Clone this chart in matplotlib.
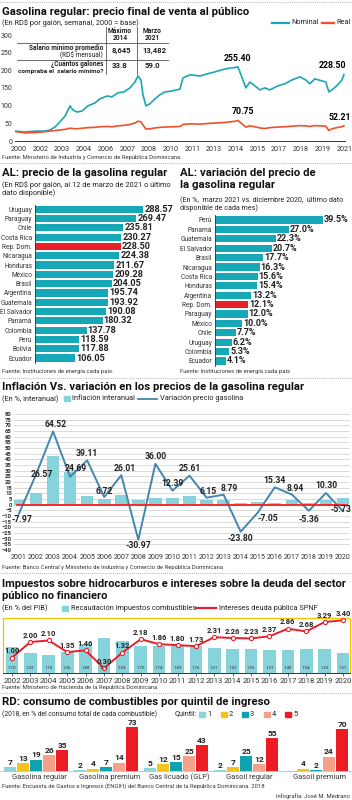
import numpy as np
import matplotlib.pyplot as plt
from matplotlib.patches import Rectangle
from matplotlib.lines import Line2D

plt.rcParams['font.family'] = ['Liberation Sans Narrow', 'Roboto', 'DejaVu Sans']

# ---------------- datos ----------------
# Gasolina regular, precio semanal (lecturas aproximadas del grafico)
fechas = [2000.00, 2000.65, 2001.29, 2001.94, 2002.26, 2002.58, 2002.90, 2003.23, 2003.55, 2003.74,
          2004.00, 2004.32, 2004.71, 2005.16, 2005.48, 2005.94, 2006.26, 2006.65, 2007.03, 2007.42,
          2007.74, 2007.94, 2008.13, 2008.26, 2008.45, 2008.71, 2009.03, 2009.35, 2009.68, 2010.13,
          2010.65, 2010.84, 2011.29, 2011.94, 2012.39, 2012.90, 2013.35, 2013.74, 2014.19, 2014.39,
          2014.71, 2014.90, 2015.16, 2015.48, 2015.81, 2016.13, 2016.45, 2016.97, 2017.42, 2017.87,
          2018.39, 2018.77, 2019.03, 2019.35, 2019.81, 2020.06, 2020.26, 2020.45, 2020.77, 2021.10,
          2021.23]
nominal = [34, 31, 34, 34, 38, 48, 66, 86, 121, 107,
           100, 103, 121, 131, 145, 155, 152, 166, 169, 183,
           203, 224, 210, 159, 121, 128, 145, 159, 169, 172,
           179, 217, 228, 224, 231, 238, 245, 250, 253, 255.40,
           210, 183, 203, 190, 176, 183, 176, 190, 197, 210,
           221, 210, 197, 214, 207, 203, 169, 176, 190, 210,
           228.50]
real = [33, 28, 29, 32, 34, 36, 38, 40, 44, 43,
        42, 44, 46, 47, 49, 50, 49, 52, 54, 57,
        62, 68, 66, 55, 41, 42, 45, 47, 48, 49,
        50, 57, 59, 58, 60, 62, 63, 65, 68, 70.75,
        56, 48, 52, 49, 45, 43, 46, 48, 49, 51,
        53, 52, 50, 53, 52, 51, 36, 42, 46, 49,
        52.21]
anios_eje1 = ['2000', '2002', '2003', '2004', '2006', '2007', '2008', '2010', '2011',
              '2013', '2014', '2015', '2017', '2018', '2019', '2021']
marcas_eje1 = [0, 50, 100, 150, 200, 250, 300]

# AL: precio de la gasolina regular
paises_precio = ['Uruguay', 'Paraguay', 'Chile', 'Costa Rica', 'Rep. Dom.', 'Nicaragua', 'Honduras',
                 'México', 'Brasil', 'Argentina', 'Guatemala', 'El Salvador', 'Panamá', 'Colombia',
                 'Perú', 'Bolivia', 'Ecuador']
precio = [288.57, 269.47, 235.81, 230.27, 228.50, 224.38, 211.67, 209.28, 204.05, 195.74,
          193.92, 190.08, 180.32, 137.78, 118.59, 117.88, 106.05]

# AL: variacion del precio
paises_var = ['Perú', 'Panamá', 'Guatemala', 'El Salvador', 'Brasil', 'Nicaragua', 'Costa Rica',
              'Honduras', 'Argentina', 'Rep. Dom.', 'Paraguay', 'México', 'Chile', 'Uruguay',
              'Colombia', 'Ecuador']
variacion = [39.5, 27.0, 22.3, 20.7, 17.7, 16.3, 15.6, 15.4, 13.2, 12.1, 12.0, 10.0, 7.7, 6.2, 5.3, 4.1]

# Inflacion vs. variacion precio gasolina
anios_inf = list(range(2001, 2021))
inflacion = [4.4, 10.5, 42.7, 28.7, 7.4, 5.0, 8.9, 4.5, 5.8, 6.2,
             7.8, 3.9, 3.9, 1.6, 2.3, 1.7, 4.2, 1.2, 3.7, 5.6]
var_gasolina = [-7.97, 26.57, 64.52, 24.69, 39.11, 6.72, 26.01, -30.97, 36.00, 12.39,
                25.61, 6.15, 8.79, -23.80, -7.05, 15.34, 8.94, -5.36, 10.30, -5.73]

# Impuestos e intereses (% del PIB)
anios_imp = list(range(2002, 2021))
recaudacion = [1.70, 1.32, 1.18, 1.36, 1.88, 2.26, 2.04, 1.75, 1.74, 1.83,
               1.76, 1.61, 1.52, 1.55, 1.51, 1.48, 1.54, 1.53, 1.27]
intereses = [1.00, 2.00, 2.10, 1.35, 1.46, 0.30, 1.32, 2.18, 1.86, 1.80,
             1.73, 2.31, 2.26, 2.23, 2.37, 2.86, 2.68, 3.29, 3.40]

# Consumo por quintil
combustibles = ['Gasolina regular', 'Gasolina premium', 'Gas licuado (GLP)', 'Gasoil regular', 'Gasoil premium']
quintil1 = [7, 2, 5, 2, 0]
quintil2 = [13, 4, 12, 7, 4]
quintil3 = [19, 7, 15, 25, 2]
quintil4 = [26, 14, 25, 12, 24]
quintil5 = [35, 73, 43, 55, 70]

# ---------------- estilo ----------------
TEAL = '#1ba6b4'
NARANJA = '#f0502a'
BARRA = '#17a8b7'
ROJO = '#e8202a'
CELESTE = '#86d3dc'
AZUL = '#4486ad'
AMARILLO = '#f2c200'
OSCURO = '#222222'
COLORES_Q = ['#8dd5de', '#f6c31c', '#0fa3b1', '#f5a089', '#ec1c24']
T_TIT = 8.2
T_SUB = 5.3

W, H = 352, 800
fig = plt.figure(figsize=(W / 100, H / 100), dpi=100)


def ejes(l, t, r, b):
    return fig.add_axes([l / W, 1 - b / H, (r - l) / W, (b - t) / H])


def texto(x, y, s, **kw):
    kw.setdefault('va', 'center')
    kw.setdefault('color', OSCURO)
    return fig.text(x / W, 1 - y / H, s, **kw)


def linea(x0, x1, y0, y1=None, **kw):
    y1 = y0 if y1 is None else y1
    fig.add_artist(Line2D([x0 / W, x1 / W], [1 - y0 / H, 1 - y1 / H], **kw))


def caja(x, y, w, h, color):
    fig.add_artist(Rectangle((x / W, 1 - (y + h / 2) / H), w / W, h / H,
                             color=color, transform=fig.transFigure))


def separador(y):
    linea(0, W, y, color='#999999', lw=0.6, ls=(0, (1, 1.5)))


def titulo(x, y, s, size=T_TIT):
    texto(x, y, s, fontsize=size, fontweight='bold', color='#111111')


def fuente(x, y, s):
    texto(x, y, s, fontsize=4.2, color='#333333')


def limpiar(ax):
    for s in ax.spines.values():
        s.set_visible(False)


# ---------------- 1. precio final ----------------
separador(2)
titulo(2, 12, 'Gasolina regular: precio final de venta al público')
texto(2, 23, '(En RD$ por galón, semanal, 2000 = base)', fontsize=T_SUB)
linea(272, 289, 23, color=TEAL, lw=1.6)
texto(291, 23, 'Nominal', fontsize=T_SUB)
linea(322, 334, 23, color=NARANJA, lw=1.6)
texto(336, 23, 'Real', fontsize=T_SUB)

ax1 = ejes(15, 35, 345, 141)
ax1.plot(fechas, nominal, color=TEAL, lw=1.2)
ax1.plot(fechas, real, color=NARANJA, lw=1.2)
ax1.set_xlim(2000, 2021.3)
ax1.set_ylim(0, 365)
limpiar(ax1)
ax1.spines['bottom'].set_visible(True)
ax1.spines['bottom'].set_color('#333333')
ax1.spines['bottom'].set_linewidth(0.7)
# las etiquetas del eje van donde las pone el original
ax1.set_yticks(np.array(marcas_eje1) * 365 / 300)
ax1.set_yticklabels([str(m) for m in marcas_eje1])
ax1.set_xticks(np.linspace(2000.25, 2021.25, len(anios_eje1)))
ax1.set_xticklabels(anios_eje1)
ax1.tick_params(axis='y', length=0, labelsize=5.0, pad=2, colors='#333333')
ax1.tick_params(axis='x', length=0, labelsize=5.2, pad=3.5, colors='#333333')
ax1.set_facecolor('none')

i_max = int(np.argmax(nominal))
ax1.annotate(f'{nominal[i_max]:.2f}', (fechas[i_max], nominal[i_max]), xytext=(0, 3),
             textcoords='offset points', ha='center', va='bottom', fontsize=6.3, fontweight='bold')
ax1.annotate(f'{nominal[-1]:.2f}', (fechas[-1], nominal[-1]), xytext=(2, 3),
             textcoords='offset points', ha='right', va='bottom', fontsize=6.3, fontweight='bold')
j_max = int(np.argmax(real))
ax1.annotate(f'{real[j_max]:.2f}', (fechas[j_max], real[j_max]), xytext=(4, 3),
             textcoords='offset points', ha='center', va='bottom', fontsize=6.3, fontweight='bold')
ax1.annotate(f'{real[-1]:.2f}', (fechas[-1], real[-1]), xytext=(5, 3),
             textcoords='offset points', ha='right', va='bottom', fontsize=6.3, fontweight='bold')

# tabla de salario
texto(120, 31, 'Máximo', fontsize=4.8, fontweight='bold', ha='center')
texto(120, 38, '2014', fontsize=4.8, fontweight='bold', ha='center')
texto(152, 31, 'Marzo', fontsize=4.8, fontweight='bold', ha='center')
texto(152, 38, '2021', fontsize=4.8, fontweight='bold', ha='center')
linea(17, 168, 43, color='#555555', lw=0.6)
linea(17, 168, 60, color='#555555', lw=0.6)
linea(106, 106, 27, 74, color='#555555', lw=0.6)
linea(137, 137, 27, 74, color='#555555', lw=0.6)
texto(103, 48, 'Salario mínimo promedio', fontsize=4.7, fontweight='bold', ha='right')
texto(103, 55, '(RD$ mensual)', fontsize=4.7, ha='right')
texto(121, 51, '8,645', fontsize=5.6, fontweight='bold', ha='center')
texto(154, 51, '13,482', fontsize=5.6, fontweight='bold', ha='center')
texto(103, 64, '¿Cuántos galones', fontsize=4.7, fontweight='bold', ha='right')
texto(103, 71, 'compraba el  salario mínimo?', fontsize=4.6, fontweight='bold', ha='right')
texto(120, 65, '33.8', fontsize=5.6, fontweight='bold', ha='center')
texto(152, 65, '59.0', fontsize=5.6, fontweight='bold', ha='center')

fuente(2, 157, 'Fuente: Ministerio de Industria y Comercio de República Dominicana.')
separador(163)

# ---------------- 2. AL precio ----------------
titulo(2, 173, 'AL: precio de la gasolina regular')
texto(2, 185, '(En RD$ por galón, al 12 de marzo de 2021 o último', fontsize=T_SUB)
texto(2, 193, 'dato disponible)', fontsize=T_SUB)

ax2 = ejes(35, 204.6, 170, 362.7)
col2 = [ROJO if p == 'Rep. Dom.' else BARRA for p in paises_precio]
y2 = np.arange(len(paises_precio))
ax2.barh(y2, precio, height=0.78, color=col2)
ax2.set_xlim(0, 360)
ax2.set_ylim(len(paises_precio) - 0.5, -0.5)
limpiar(ax2)
ax2.spines['left'].set_visible(True)
ax2.spines['left'].set_color('#333333')
ax2.spines['left'].set_linewidth(0.6)
ax2.set_xticks([])
ax2.set_yticks(y2)
ax2.set_yticklabels(paises_precio)
ax2.tick_params(length=0, labelsize=4.7, pad=2, colors='#333333')
for yy, v in zip(y2, precio):
    ax2.text(v + 3, yy, f'{v:.2f}', va='center', ha='left', fontsize=6.6, fontweight='bold', color=OSCURO)
fuente(2, 371, 'Fuente: Instituciones de energía cada país.')

titulo(180, 173, 'AL: variación del precio de')
titulo(180, 185, 'la gasolina regular')
texto(180, 200, '(En %,  marzo 2021 vs. diciembre 2020,  último dato', fontsize=5.1)
texto(180, 208, 'disponible de cada mes)', fontsize=5.1)

ax3 = ejes(215, 215.3, 350, 365.7)
col3 = [ROJO if p == 'Rep. Dom.' else BARRA for p in paises_var]
y3 = np.arange(len(paises_var))
ax3.barh(y3, variacion, height=0.78, color=col3)
ax3.set_xlim(0, 49.4)
ax3.set_ylim(len(paises_var) - 0.5, -0.5)
limpiar(ax3)
ax3.spines['left'].set_visible(True)
ax3.spines['left'].set_color('#333333')
ax3.spines['left'].set_linewidth(0.6)
ax3.set_xticks([])
ax3.set_yticks(y3)
ax3.set_yticklabels(paises_var)
ax3.tick_params(length=0, labelsize=4.7, pad=2, colors='#333333')
for yy, v in zip(y3, variacion):
    ax3.text(v + 0.3, yy, f'{v:.1f}%', va='center', ha='left', fontsize=6.5, fontweight='bold', color=OSCURO)
fuente(180, 371, 'Fuente: Instituciones de energía cada país')
separador(378)

# ---------------- 3. inflacion ----------------
titulo(2, 387, 'Inflación Vs. variación en los precios de la gasolina regular')
texto(2, 399, '(En %, interanual)', fontsize=T_SUB)
caja(64, 399, 6, 5, CELESTE)
texto(72, 399, 'Inflación interanual', fontsize=T_SUB)
linea(138, 157, 399, color=AZUL, lw=1.3)
texto(160, 399, 'Variación precio gasolina', fontsize=T_SUB)

ax4 = ejes(14, 414, 350, 550)
ax4.bar(anios_inf, inflacion, width=0.74, color=CELESTE, zorder=2)
ax4.plot(anios_inf, var_gasolina, color=AZUL, lw=1.4, zorder=3)
ax4.axhline(0, xmin=0.01, xmax=0.99, color='#ff1a1a', lw=1.3, zorder=4)
ax4.set_xlim(2000.71, 2020.41)
ax4.set_ylim(-40, 80)
limpiar(ax4)
ax4.set_yticks(range(-40, 81, 5))
ax4.grid(axis='y', color='#d4d4d4', lw=0.6, zorder=0)
ax4.set_axisbelow(True)
ax4.set_xticks(anios_inf)
ax4.tick_params(axis='y', length=0, labelsize=4.2, pad=1.5, colors='#333333')
ax4.tick_params(axis='x', length=0, labelsize=5.1, pad=3, colors='#333333')
for lab in ax4.get_yticklabels():
    lab.set_fontweight('bold')
# desplazamiento de cada etiqueta (pixeles)
desplaz = [(3, -6), (6, 0), (3, 7), (6, 8), (0, 7), (0, 6), (4, 7), (0, -6), (0, 7), (0, 7),
           (0, 7), (2, 6), (6, 6), (0, -7), (10, -6), (0, 7), (3, 6), (0, -9), (0, 7), (-2, 2)]
for xx, v, (dx, dy) in zip(anios_inf, var_gasolina, desplaz):
    ax4.annotate(f'{v:.2f}', (xx, v), xytext=(dx * 0.72, dy * 0.72), textcoords='offset points',
                 ha='center', va='center', fontsize=6.2, fontweight='bold', color=OSCURO, zorder=5)
fuente(2, 567, 'Fuente: Banco Central y Ministerio de Industria y Comercio de República Dominicana')
separador(573)

# ---------------- 4. impuestos ----------------
titulo(2, 584, 'Impuestos sobre hidrocarburos e intereses sobre la deuda del sector', size=8.0)
titulo(2, 596, 'público no financiero', size=8.0)
texto(2, 608, '(En % del PIB)', fontsize=T_SUB)
caja(62, 608, 6, 5, CELESTE)
texto(71, 608, 'Recaudación impuestos combustibles', fontsize=T_SUB)
linea(196, 216, 608, color=ROJO, lw=1.6)
texto(219, 608, 'Intereses deuda pública SPNF', fontsize=T_SUB)

ax5 = ejes(3, 618, 350, 673)
ax5.bar(anios_imp, recaudacion, width=0.69, color=CELESTE, zorder=2)
ax5.plot(anios_imp, intereses, color=ROJO, lw=1.4, marker='o', ms=3, mfc='white',
         mec=ROJO, mew=0.8, zorder=3)
ax5.set_xlim(2001.51, 2020.38)
ax5.set_ylim(0, 3.55)
for s in ['top', 'left', 'right']:
    ax5.spines[s].set_color(AMARILLO)
    ax5.spines[s].set_linestyle((0, (1, 1)))
    ax5.spines[s].set_linewidth(0.9)
ax5.spines['bottom'].set_color('#333333')
ax5.spines['bottom'].set_linewidth(0.7)
ax5.set_yticks([])
ax5.set_xticks(anios_imp)
ax5.tick_params(axis='x', length=2, width=0.5, labelsize=5.6, pad=1.5, colors='#333333')
for xx, v in zip(anios_imp, recaudacion):
    ax5.text(xx, 0.3, f'{v:.2f}', ha='center', va='center', fontsize=3.2, color='#333333', zorder=4)
for xx, v in zip(anios_imp, intereses):
    ax5.annotate(f'{v:.2f}', (xx, v), xytext=(0, 5), textcoords='offset points',
                 ha='center', va='center', fontsize=5.5, fontweight='bold', color=OSCURO, zorder=5)
fuente(2, 687, 'Fuente: Ministerio de Hacienda de la República Dominicana')
separador(693)

# ---------------- 5. quintiles ----------------
titulo(2, 702, 'RD: consumo de combustibles por quintil de ingreso')
texto(2, 714, '(2018, en % del consumo total de cada combustible)', fontsize=4.9)
texto(175, 714, 'Quintil:', fontsize=T_SUB)
for k, c in enumerate(COLORES_Q):
    caja(199 + k * 21.5, 714, 6, 5, c)
    texto(207 + k * 21.5, 714, str(k + 1), fontsize=T_SUB)

ax6 = ejes(0, 720, 352, 771)
xg = np.arange(len(combustibles))
for k, (serie, c) in enumerate(zip([quintil1, quintil2, quintil3, quintil4, quintil5], COLORES_Q)):
    pos = xg + (k - 2) * 0.186
    ax6.bar(pos, serie, width=0.17, color=c)
    for xx, v in zip(pos, serie):
        if v > 0:
            ax6.text(xx, v + 2, str(v), ha='center', va='bottom', fontsize=6, fontweight='bold', color=OSCURO)
ax6.set_xlim(-0.514, 4.514)
ax6.set_ylim(0, 85)
limpiar(ax6)
ax6.spines['bottom'].set_visible(True)
ax6.spines['bottom'].set_color('#bbbbbb')
ax6.spines['bottom'].set_linewidth(0.6)
ax6.set_yticks([])
ax6.set_xticks(xg + 0.05)
ax6.set_xticklabels(combustibles)
ax6.tick_params(axis='x', length=0, labelsize=5.4, pad=2, colors='#333333')
ax6.set_facecolor('none')
fuente(2, 786, 'Fuente: Encuesta de Gastos e Ingresos (ENGIH) del Banco Central de la República Dominicana. 2018')
texto(350, 796, 'Infografía: José M. Medrano', fontsize=4.2, ha='right', color='#333333')

fig.savefig('out.png', dpi=100)
